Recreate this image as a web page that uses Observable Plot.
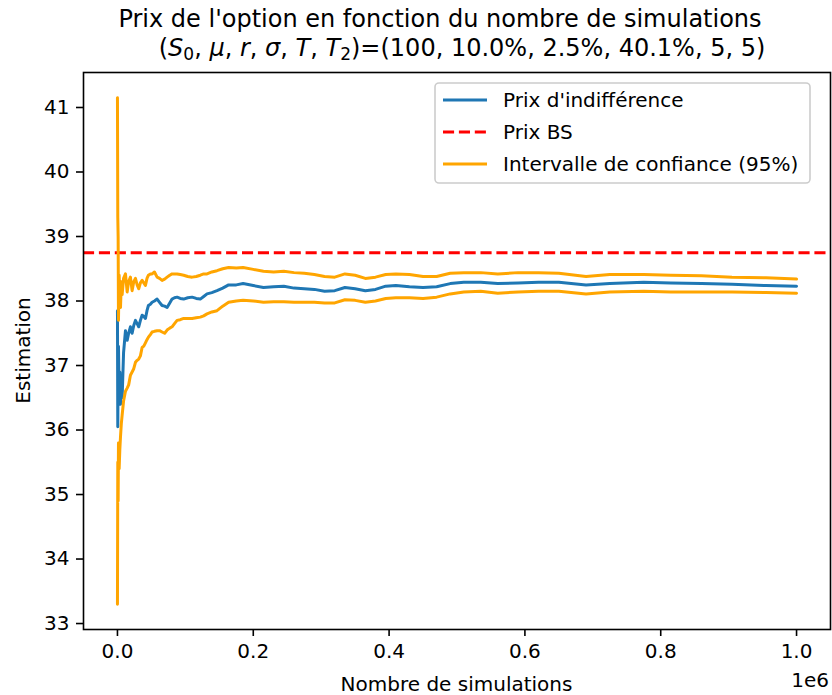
<!DOCTYPE html>
<html>
<head>
<meta charset="utf-8">
<script src="https://cdn.jsdelivr.net/npm/d3@7"></script>
<script src="https://cdn.jsdelivr.net/npm/@observablehq/plot@0.6"></script>
<style>
  html, body { margin: 0; padding: 0; background: white; }
  #wrap { position: relative; width: 832px; height: 695px; font-family: "DejaVu Sans", sans-serif; }
  #overlay { position: absolute; left: 0; top: 0; pointer-events: none; }
</style>
</head>
<body>
<div id="wrap"></div>
<script>
// Number of simulations
const nbSimulations = [0, 500, 1000, 1500, 2500, 3500, 4500, 5700, 6900, 9000, 11800, 14300, 16500, 19100, 21600, 24000, 26500, 29000, 31300, 33800, 36300, 38800, 41200, 43500, 45600, 48500, 51000, 54500, 58400, 62000, 65700, 69500, 73100, 77000, 80400, 84000, 87800, 92500, 97500, 103500, 109900, 116000, 122000, 127000, 131900, 139000, 146600, 155000, 163700, 175000, 185000, 200000, 215000, 230000, 245000, 260000, 275000, 290000, 305000, 320000, 335000, 350000, 365000, 380000, 395000, 410000, 430000, 450000, 470000, 490000, 510000, 535000, 560000, 590000, 620000, 650000, 690000, 725000, 775000, 815000, 860000, 905000, 955000, 1000000];
// Prix d'indifférence (estimate)
const prixIndifference = [37.85, 36.05, 37.0, 37.3, 36.6, 36.9, 36.4, 36.8, 36.5, 37.2, 37.54, 37.39, 37.5, 37.6, 37.5, 37.62, 37.7, 37.65, 37.6, 37.7, 37.78, 37.76, 37.73, 37.85, 37.93, 37.95, 37.98, 38.0, 38.03, 37.98, 37.93, 37.92, 37.9, 37.97, 38.03, 38.05, 38.06, 38.04, 38.03, 38.05, 38.06, 38.04, 38.03, 38.07, 38.11, 38.13, 38.16, 38.2, 38.25, 38.25, 38.27, 38.24, 38.21, 38.22, 38.23, 38.2, 38.19, 38.18, 38.15, 38.16, 38.21, 38.19, 38.16, 38.18, 38.23, 38.24, 38.22, 38.21, 38.22, 38.27, 38.29, 38.29, 38.27, 38.28, 38.29, 38.29, 38.25, 38.27, 38.29, 38.28, 38.27, 38.26, 38.24, 38.23];
// Upper bound of 95% confidence interval
const icHaut = [41.15, 39.3, 39.0, 37.7, 38.4, 38.1, 37.9, 38.3, 38.1, 38.35, 38.42, 38.14, 38.3, 38.37, 38.16, 38.3, 38.35, 38.25, 38.19, 38.28, 38.32, 38.28, 38.24, 38.35, 38.4, 38.42, 38.42, 38.45, 38.37, 38.35, 38.32, 38.34, 38.37, 38.4, 38.42, 38.42, 38.42, 38.41, 38.4, 38.38, 38.37, 38.38, 38.4, 38.42, 38.42, 38.45, 38.47, 38.5, 38.52, 38.51, 38.52, 38.49, 38.46, 38.45, 38.46, 38.44, 38.43, 38.41, 38.38, 38.37, 38.42, 38.4, 38.35, 38.37, 38.41, 38.42, 38.41, 38.38, 38.38, 38.43, 38.44, 38.44, 38.42, 38.44, 38.44, 38.43, 38.38, 38.41, 38.41, 38.4, 38.39, 38.37, 38.36, 38.34];
// Lower bound of 95% confidence interval
const icBas = [33.3, 35.5, 34.9, 35.8, 35.4, 35.7, 35.9, 36.1, 36.23, 36.45, 36.6, 36.65, 36.7, 36.85, 36.9, 36.95, 37.05, 37.08, 37.1, 37.15, 37.28, 37.3, 37.35, 37.4, 37.44, 37.48, 37.52, 37.53, 37.54, 37.54, 37.52, 37.5, 37.55, 37.58, 37.6, 37.65, 37.7, 37.71, 37.73, 37.73, 37.73, 37.74, 37.75, 37.77, 37.8, 37.83, 37.85, 37.92, 37.98, 38.0, 38.01, 38.0, 37.98, 37.99, 37.99, 37.98, 37.98, 37.98, 37.97, 37.97, 38.02, 38.01, 37.98, 38.0, 38.04, 38.05, 38.05, 38.04, 38.06, 38.11, 38.14, 38.15, 38.12, 38.14, 38.15, 38.15, 38.11, 38.14, 38.15, 38.14, 38.14, 38.14, 38.13, 38.12];
// Black-Scholes price
const prixBS = 38.75;

const xTicks = [0, 200000, 400000, 600000, 800000, 1000000];
const yTicks = [33, 34, 35, 36, 37, 38, 39, 40, 41];

const legendLabels = ["Prix d'indifférence", "Prix BS", "Intervalle de confiance (95%)"];

const blueRows = nbSimulations.map((x, i) => ({x, y: prixIndifference[i]}));
const hautRows = nbSimulations.map((x, i) => ({x, y: icHaut[i]}));
const basRows = nbSimulations.map((x, i) => ({x, y: icBas[i]}));

const chart = Plot.plot({
  width: 832,
  height: 695,
  marginLeft: 83,
  marginRight: 2,
  marginTop: 72,
  marginBottom: 66,
  style: {fontFamily: "DejaVu Sans", fontSize: "20px", color: "black", background: "white", overflow: "visible"},
  x: {domain: [-50000, 1050000]},
  y: {domain: [32.9075, 41.5425]},
  marks: [
    Plot.lineY(blueRows, {x: "x", y: "y", stroke: "#1f77b4", strokeWidth: 3}),
    Plot.ruleY([prixBS], {stroke: "#ff0000", strokeWidth: 3, strokeDasharray: "11.1,4.8"}),
    Plot.lineY(hautRows, {x: "x", y: "y", stroke: "#ffa500", strokeWidth: 3}),
    Plot.lineY(basRows, {x: "x", y: "y", stroke: "#ffa500", strokeWidth: 3}),
    Plot.frame({stroke: "black", strokeWidth: 1.6}),
    Plot.axisX({ticks: xTicks, tickSize: 7, tickPadding: 7, strokeWidth: 1.6, tickFormat: d => (d / 1e6).toFixed(1), label: null, fontSize: 20}),
    Plot.axisY({ticks: yTicks, tickSize: 7, tickPadding: 7, strokeWidth: 1.6, tickFormat: d => String(d), label: null, fontSize: 20})
  ]
});
const wrap = document.getElementById("wrap");
wrap.appendChild(chart);

// Overlay: title, axis labels, offset text, legend
const ns = "http://www.w3.org/2000/svg";
const ov = document.createElementNS(ns, "svg");
ov.setAttribute("id", "overlay");
ov.setAttribute("width", 832);
ov.setAttribute("height", 695);
ov.setAttribute("font-family", "DejaVu Sans");
ov.innerHTML = `
  <text x="440" y="27" font-size="24" text-anchor="middle">Prix de l'option en fonction du nombre de simulations</text>
  <text x="462" y="56" font-size="24" text-anchor="middle">(<tspan font-style="italic">S</tspan><tspan font-size="17" dy="4">0</tspan><tspan dy="-4">, </tspan><tspan font-style="italic">μ</tspan>, <tspan font-style="italic">r</tspan>, <tspan font-style="italic">σ</tspan>, <tspan font-style="italic">T</tspan>, <tspan font-style="italic">T</tspan><tspan font-size="17" dy="4">2</tspan><tspan dy="-4">)=(100, 10.0%, 2.5%, 40.1%, 5, 5)</tspan></text>
  <text x="456.5" y="691" font-size="20" text-anchor="middle">Nombre de simulations</text>
  <text x="829" y="687" font-size="20" text-anchor="end">1e6</text>
  <text transform="translate(30,350.5) rotate(-90)" font-size="20" text-anchor="middle">Estimation</text>
  <rect x="435" y="83" width="375" height="100" rx="4" ry="4" fill="white" fill-opacity="0.8" stroke="#cccccc" stroke-width="1.6"/>
  <line x1="443" x2="487" y1="100" y2="100" stroke="#1f77b4" stroke-width="3"/>
  <line x1="443" x2="487" y1="132" y2="132" stroke="#ff0000" stroke-width="3" stroke-dasharray="11.1,4.8"/>
  <line x1="443" x2="487" y1="164" y2="164" stroke="#ffa500" stroke-width="3"/>
  <text x="503" y="100" font-size="20" dominant-baseline="central">${legendLabels[0]}</text>
  <text x="503" y="132" font-size="20" dominant-baseline="central">${legendLabels[1]}</text>
  <text x="503" y="164" font-size="20" dominant-baseline="central">${legendLabels[2]}</text>
`;
wrap.appendChild(ov);
</script>
</body>
</html>
